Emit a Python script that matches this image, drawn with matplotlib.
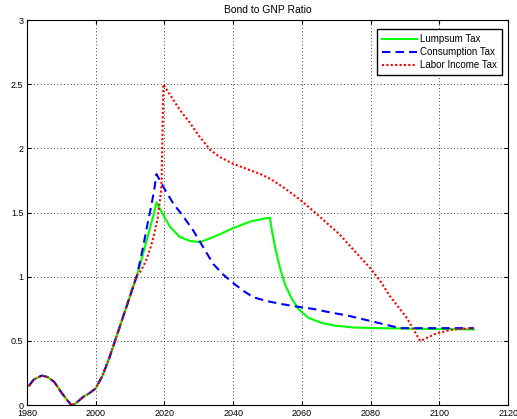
import matplotlib
matplotlib.use("Agg")
import matplotlib.pyplot as plt

plt.rcParams['font.family'] = ['Liberation Sans', 'DejaVu Sans']

# shared history (all three scenarios identical up to ~2012)
hist_years = [1980.6, 1982, 1984.3, 1986, 1988, 1990, 1992, 1993, 1994, 1996.4,
              1998, 2000, 2001, 2002, 2003, 2004, 2005, 2006, 2007, 2008,
              2009, 2010, 2011, 2012]
hist_vals = [0.15, 0.20, 0.23, 0.22, 0.18, 0.10, 0.03, 0.0, 0.01, 0.065,
             0.09, 0.13, 0.18, 0.23, 0.30, 0.37, 0.45, 0.53, 0.61, 0.69,
             0.77, 0.85, 0.93, 1.01]

# Lumpsum tax
lump_years = [2013, 2014, 2015, 2016, 2017, 2017.7, 2019.7, 2021.6, 2024.5,
              2027.4, 2030.3, 2033.3, 2036, 2040, 2044.9, 2049.3, 2050.7,
              2051.2, 2052.2, 2053.6, 2055.1, 2057, 2059, 2061.9, 2065.8,
              2069.6, 2075, 2082.7, 2095, 2110]
lump_vals = [1.10, 1.20, 1.30, 1.40, 1.50, 1.58, 1.48, 1.39, 1.31,
             1.28, 1.27, 1.30, 1.33, 1.38, 1.43, 1.455, 1.46,
             1.37, 1.23, 1.07, 0.94, 0.83, 0.75, 0.68, 0.64,
             0.62, 0.605, 0.60, 0.595, 0.59]

# Consumption tax
cons_years = [2013, 2014, 2015, 2016, 2017, 2017.7, 2019.7, 2022.6, 2025.5,
              2028.4, 2031.3, 2034.2, 2037, 2039.6, 2043, 2045.9, 2050,
              2053.6, 2058, 2063.3, 2068.7, 2073, 2080.8, 2088.6, 2095, 2110]
cons_vals = [1.13, 1.26, 1.40, 1.53, 1.67, 1.80, 1.70, 1.57, 1.47,
             1.36, 1.23, 1.10, 1.02, 0.96, 0.89, 0.84, 0.81,
             0.79, 0.77, 0.75, 0.72, 0.70, 0.65, 0.60, 0.60, 0.60]

# Labor income tax
labor_years = [2013, 2014, 2015, 2016, 2017, 2018, 2019, 2019.2, 2019.7,
               2021.6, 2024.5, 2027.4, 2030, 2033.3, 2036, 2040, 2044,
               2048, 2051, 2055, 2059.5, 2063, 2067.2, 2071, 2075, 2079.8,
               2082.7, 2085.6, 2090.5, 2094.4, 2096, 2099.2, 2104, 2110]
labor_vals = [1.04, 1.09, 1.15, 1.23, 1.33, 1.45, 1.66, 1.76, 2.50,
              2.42, 2.30, 2.20, 2.10, 1.99, 1.935, 1.88, 1.84,
              1.80, 1.76, 1.69, 1.60, 1.52, 1.42, 1.33, 1.21, 1.07,
              0.97, 0.85, 0.68, 0.50, 0.52, 0.56, 0.59, 0.60]

fig = plt.figure(figsize=(5.17, 4.19), dpi=100)
ax = fig.add_axes([0.052, 0.033, 0.931, 0.919])

ax.plot(hist_years + lump_years, hist_vals + lump_vals,
        color='#00ff00', lw=1.5, label='Lumpsum Tax')
ax.plot(hist_years + cons_years, hist_vals + cons_vals,
        color='#0000ff', lw=1.5, ls=(0, (4, 2.5)), label='Consumption Tax')
ax.plot(hist_years + labor_years, hist_vals + labor_vals,
        color='#ff0000', lw=1.5, ls=(0, (1, 1.1)), label='Labor Income Tax')

ax.set_xlim(1980, 2120)
ax.set_ylim(0, 3)
ax.set_xticks(range(1980, 2121, 20))
ax.set_yticks([0, 0.5, 1, 1.5, 2, 2.5, 3])
ax.set_yticklabels(['0', '0.5', '1', '1.5', '2', '2.5', '3'])
ax.tick_params(direction='in', top=True, right=True, labelsize=6.5, length=3, pad=2.5)
ax.grid(True, color='black', ls=(0, (1, 3)), lw=0.6)
for s in ax.spines.values():
    s.set_linewidth(0.8)

ax.set_title('Bond to GNP Ratio', fontsize=7.5, pad=5)

leg = ax.legend(loc='upper right', bbox_to_anchor=(0.971, 0.931),
                bbox_transform=fig.transFigure, fontsize=7, handlelength=3.6,
                fancybox=False, framealpha=1, edgecolor='black',
                borderaxespad=0, labelspacing=0.3, handletextpad=0.3,
                borderpad=0.55)
leg.get_frame().set_linewidth(1.0)

fig.savefig('out.png', dpi=100)
